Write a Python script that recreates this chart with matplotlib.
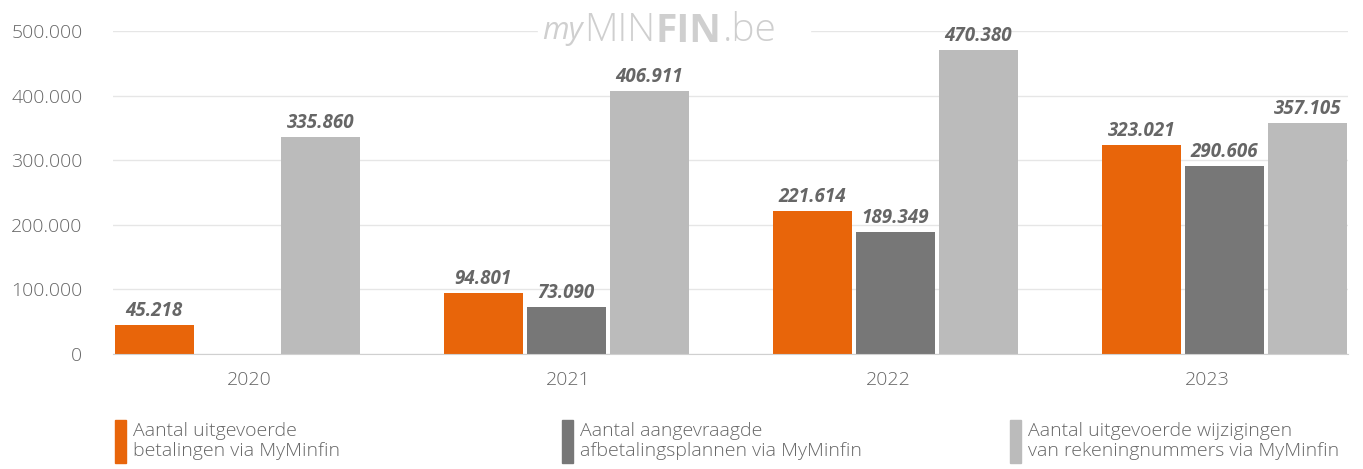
import numpy as np
import matplotlib.pyplot as plt
from matplotlib.patches import Rectangle

plt.rcParams['font.family'] = ['Open Sans', 'DejaVu Sans']

years = ['2020', '2021', '2022', '2023']
betalingen = [45218, 94801, 221614, 323021]
afbetalingsplannen = [None, 73090, 189349, 290606]
wijzigingen = [335860, 406911, 470380, 357105]
labels = ['Aantal uitgevoerde\nbetalingen via MyMinfin',
          'Aantal aangevraagde\nafbetalingsplannen via MyMinfin',
          'Aantal uitgevoerde wijzigingen\nvan rekeningnummers via MyMinfin']
colors = ['#E8650A', '#777777', '#BBBBBB']
yticks = [0, 100000, 200000, 300000, 400000, 500000]
ytick_labels = ['0', '100.000', '200.000', '300.000', '400.000', '500.000']


def fmt(v):
    return f"{v:,}".replace(',', '.')


fig = plt.figure(figsize=(13.63, 4.69), dpi=100)
ax = fig.add_axes([113 / 1363, 115 / 469, 1235 / 1363, 323 / 469])

x = np.arange(len(years))
step = 83 / 329
width = 79 / 329
series = [betalingen, afbetalingsplannen, wijzigingen]
for i, (vals, c) in enumerate(zip(series, colors)):
    for xi, v in zip(x, vals):
        if v is None:
            continue
        pos = xi + (i - 1) * step
        ax.bar(pos, v, width=width, color=c, zorder=3)
        ax.text(pos, v + 6000, fmt(v), ha='center', va='bottom',
                fontsize=13.5, fontweight='bold', fontstyle='italic',
                color='#666666', zorder=4)

ax.set_xlim(-step - width / 2 - 0.005, 3 + step + width / 2 + 0.003)
ax.set_ylim(0, 500000)
ax.set_yticks(yticks)
ax.set_yticklabels(ytick_labels)
# year labels sit on their own evenly spaced band, slightly off the bar groups
ax.set_xticks(0.0365 + x * 0.9705)
ax.set_xticklabels(years)
ax.tick_params(axis='both', length=0, labelsize=14, labelcolor='#666666')
ax.tick_params(axis='x', pad=12)
ax.yaxis.set_tick_params(pad=22)
for lab in ax.get_yticklabels():
    lab.set_fontweight('light')
for lab in ax.get_xticklabels():
    lab.set_fontweight('light')
ax.grid(axis='y', color='#E6E6E6', linewidth=1, zorder=0)
ax.xaxis.grid(False)
for s in ['top', 'right', 'left']:
    ax.spines[s].set_visible(False)
ax.spines['bottom'].set_color('#D0D0D0')
ax.spines['bottom'].set_zorder(5)

# watermark logo, built from pieces
fig.patches.append(Rectangle((538 / 1363, 420 / 469), 272 / 1363, 36 / 469,
                             transform=fig.transFigure, color='white', zorder=10))
pieces = [('my', dict(fontstyle='italic', fontweight='normal', fontsize=22)),
          ('MIN', dict(fontweight='light', fontsize=28)),
          ('FIN', dict(fontweight='bold', fontsize=28)),
          ('.be', dict(fontweight='light', fontsize=28))]
fig.canvas.draw()
renderer = fig.canvas.get_renderer()
cur = 542
for txt, kw in pieces:
    t = fig.text(cur / 1363, 438 / 469, txt, ha='left', va='center',
                 color='#CFCFCF', zorder=11, **kw)
    bb = t.get_window_extent(renderer)
    cur += bb.width + 1

# legend
leg_x = [115, 562, 1010]
for lx, lab, c in zip(leg_x, labels, colors):
    fig.patches.append(Rectangle((lx / 1363, 6 / 469), 11 / 1363, 43 / 469,
                                 transform=fig.transFigure, color=c))
    fig.text((lx + 18) / 1363, 28 / 469, lab, ha='left', va='center',
             fontsize=14, color='#666666', linespacing=1.15, fontweight='light')

fig.savefig('out.png', dpi=100)
